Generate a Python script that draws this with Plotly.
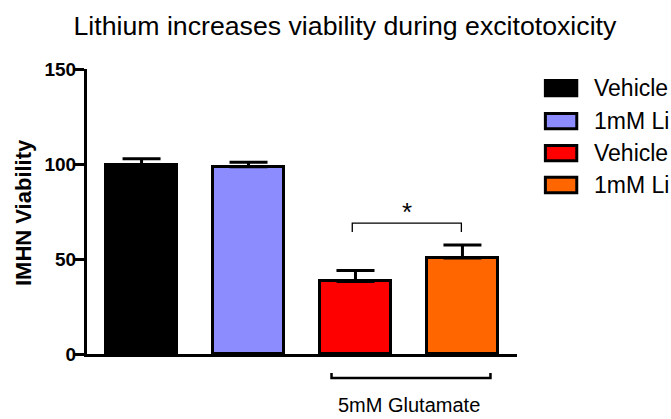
import plotly.graph_objects as go

categories = ["Vehicle", "1mM Li", "Glut Vehicle", "Glut 1mM Li"]
legend_labels = ["Vehicle", "1mM Li", "Vehicle", "1mM Li"]
values = [99.3, 98.6, 38.2, 50.5]
errors = [3.5, 2.3, 5.8, 6.9]
colors = ["#000000", "#8C8CFF", "#FF0000", "#FF6600"]
y_ticks = [0, 50, 100, 150]
group_label = "5mM Glutamate"
sig_label = "*"

FONT = "Liberation Sans, Arial, sans-serif"
xs = list(range(len(categories)))

fig = go.Figure()
fig.add_trace(go.Bar(
    x=xs, y=values, width=0.665,
    marker=dict(color=colors, line=dict(color="black", width=3)),
    error_y=dict(type="data", array=errors, arrayminus=[0] * len(errors),
                 symmetric=False, color="black", thickness=3, width=19),
    showlegend=False,
))

shapes = []
annotations = []

# glutamate group bracket (below axis)
gx0, gx1 = 1.776, 3.262
yb, yt = -0.084, -0.067
shapes.append(dict(type="path", xref="x", yref="paper",
                   path=f"M {gx0},{yt} L {gx0},{yb} L {gx1},{yb} L {gx1},{yt}",
                   line=dict(color="black", width=2.5)))
annotations.append(dict(text=group_label, xref="x", yref="paper", x=2.5, y=-0.18,
                        showarrow=False, font=dict(size=20, color="black", family=FONT),
                        xanchor="center", yanchor="middle"))

# significance bracket
sx0, sx1 = 1.97, 2.99
shapes.append(dict(type="path", xref="x", yref="y",
                   path=f"M {sx0},64.2 L {sx0},68.9 L {sx1},68.9 L {sx1},64.2",
                   line=dict(color="black", width=1.3)))
annotations.append(dict(text=sig_label, xref="x", yref="y", x=2.48, y=74.5,
                        showarrow=False, font=dict(size=26, color="black", family=FONT),
                        xanchor="center", yanchor="middle"))

# y axis title
annotations.append(dict(text="<b>IMHN Viability</b>", xref="paper", yref="paper",
                        x=-0.149, y=0.498, textangle=-90, showarrow=False,
                        font=dict(size=22, color="black", family=FONT),
                        xanchor="center", yanchor="middle"))

# custom legend
row_y = [0.933, 0.817, 0.705, 0.593]
for lab, col, ry in zip(legend_labels, colors, row_y):
    shapes.append(dict(type="rect", xref="paper", yref="paper",
                       x0=1.066, x1=1.139, y0=ry - 0.027, y1=ry + 0.027,
                       fillcolor=col, line=dict(color="black", width=3)))
    annotations.append(dict(text=lab, xref="paper", yref="paper", x=1.175, y=ry,
                            showarrow=False, xanchor="left", yanchor="middle",
                            font=dict(size=23, color="black", family=FONT)))

fig.update_layout(
    width=671, height=419,
    margin=dict(l=87, r=154, t=69, b=65),
    paper_bgcolor="white", plot_bgcolor="white",
    font=dict(family=FONT, color="black"),
    title=dict(text="Lithium increases viability during excitotoxicity",
               x=0.514, xanchor="center", xref="container",
               y=0.938, yanchor="middle", yref="container",
               font=dict(size=26.7, color="black", family=FONT)),
    xaxis=dict(range=[-0.51, 3.51], showline=True, linecolor="black", linewidth=3,
               showticklabels=False, ticks="", showgrid=False, zeroline=False,
               fixedrange=True),
    yaxis=dict(range=[0, 150], tickvals=y_ticks, ticktext=[str(v) for v in y_ticks],
               showline=True, linecolor="black", linewidth=3,
               ticks="outside", ticklen=10, tickwidth=3, tickcolor="black",
               ticklabelstandoff=-6,
               tickfont=dict(size=19, color="black", family=FONT, weight="bold"),
               showgrid=False, zeroline=False, fixedrange=True),
    shapes=shapes,
    annotations=annotations,
    bargap=0,
)

fig.write_html("out.html")
